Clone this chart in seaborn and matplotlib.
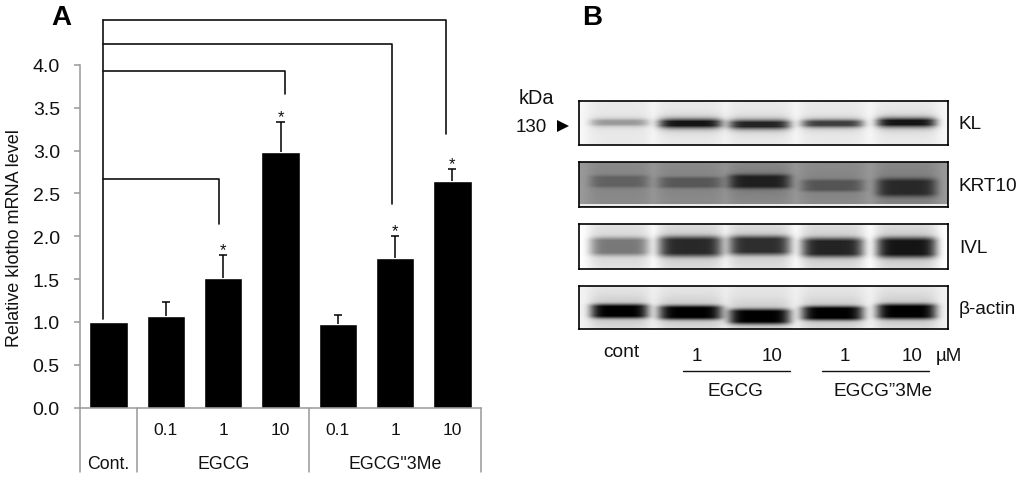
import numpy as np
import pandas as pd
import matplotlib
matplotlib.use('Agg')
import matplotlib.pyplot as plt
import seaborn as sns

W, H = 1024, 481

# Panel A data
bar_names = ['Cont.', 'EGCG 0.1', 'EGCG 1', 'EGCG 10', '3Me 0.1', '3Me 1', '3Me 10']
bar_values = [1.00, 1.07, 1.51, 2.98, 0.97, 1.75, 2.64]
err_tops = [1.00, 1.23, 1.78, 3.34, 1.08, 2.00, 2.79]
star_bars = [2, 3, 5, 6]
dose_labels = ['', '0.1', '1', '10', '0.1', '1', '10']
group_labels = ['Cont.', 'EGCG', 'EGCG"3Me']
group_centres = [0, 2, 5]
group_sizes = [12.8, 12.8, 12.8]
group_edges = [-0.5, 0.5, 3.5, 6.5]
y_ticks = [0.0, 0.5, 1.0, 1.5, 2.0, 2.5, 3.0, 3.5, 4.0]

# brackets: right end x, top y, lower end of the drop (data units)
bracket_x = [1.93, 3.08, 4.95, 5.89]
bracket_top = [2.67, 3.93, 4.25, 4.53]
bracket_end = [2.14, 3.66, 2.38, 3.20]
bracket_left = -0.10
bracket_left_end = 1.03

# Panel B data, one value per lane
lane_centres = [619, 690, 759, 832, 906]
lane_half = [29, 32, 31, 31, 30]
blot_names = ['KL', 'KRT10', 'IVL', 'β-actin']
blot_tops = [102, 163, 225, 287]
blot_bottoms = [146, 208, 270, 330]
blot_bg = [0.91, 0.54, 0.90, 0.90]
blot_gap = [0.97, 0.60, 1.00, 0.95]
blot_edge = [2, 4, 4, 4]
kl_grey = [0.60, 0.08, 0.14, 0.24, 0.08]
kl_thick = [3.5, 4.5, 4.5, 3.8, 4.5]
kl_centre = [21, 22, 23, 22, 21]
krt_grey = [0.38, 0.34, 0.12, 0.33, 0.16]
krt_thick = [6, 5.5, 7, 6, 9]
krt_centre = [19, 20, 19, 23, 25]
ivl_grey = [0.47, 0.16, 0.18, 0.14, 0.08]
ivl_thick = [9, 10, 9.5, 9.5, 10]
ivl_centre = [22, 22, 21, 23, 23]
act_grey = [0.0, 0.0, 0.0, 0.0, 0.0]
act_thick = [7, 7, 7.5, 7, 7.5]
act_centre = [24.7, 26, 30, 26.7, 25]
blot_greys = [kl_grey, krt_grey, ivl_grey, act_grey]
blot_thicks = [kl_thick, krt_thick, ivl_thick, act_thick]
blot_centres = [kl_centre, krt_centre, ivl_centre, act_centre]

sns.set_theme(style='white')
plt.rcParams['font.family'] = ['Liberation Sans', 'DejaVu Sans']

fig = plt.figure(figsize=(W / 100, H / 100), dpi=100, facecolor='white')


def px_axes(left, top, right, bottom):
    return fig.add_axes([left / W, 1 - bottom / H, (right - left) / W, (bottom - top) / H])


def px_text(x, y, s, **kw):
    kw.setdefault('ha', 'center')
    kw.setdefault('va', 'center')
    kw.setdefault('color', '#111111')
    fig.text(x / W, 1 - y / H, s, **kw)


# Panel A
ax = px_axes(80, 66, 481, 408.5)
df = pd.DataFrame({'name': bar_names, 'value': bar_values})
sns.barplot(data=df, x='name', y='value', order=bar_names, color='black',
            saturation=1, width=0.67, errorbar=None, ax=ax)
xpos = np.arange(len(bar_names))
ax.vlines(xpos[1:], bar_values[1:], err_tops[1:], color='black', lw=1.1, clip_on=False)
ax.hlines(err_tops[1:], xpos[1:] - 0.07, xpos[1:] + 0.07, color='black', lw=1.1, clip_on=False)
for i in star_bars:
    ax.text(i, err_tops[i] + 0.06, '*', ha='center', va='center', fontsize=12, color='#111111')

ax.set_xlim(-0.5, 6.5)
ax.set_ylim(0, 4)
ax.set_xlabel('')
ax.set_ylabel('')
ax.set_xticks([])
ax.set_yticks(y_ticks)
ax.set_yticklabels(['%.1f' % t for t in y_ticks], fontsize=14, color='#111111')
ax.tick_params(axis='y', length=4.5, width=1.1, color='#999999', left=True, pad=10)
sns.despine(ax=ax, top=True, right=True)
for s in ['left', 'bottom']:
    ax.spines[s].set_color('#999999')
    ax.spines[s].set_linewidth(1.1)

# grouped category axis under the bars
for e in group_edges:
    ax.plot([e, e], [0, -0.755], color='#999999', lw=1.1, clip_on=False)
for i, lab in enumerate(dose_labels):
    ax.text(i, -0.255, lab, ha='center', va='center', fontsize=12.6, color='#111111')
for c, lab, fs in zip(group_centres, group_labels, group_sizes):
    ax.text(c, -0.65, lab, ha='center', va='center', fontsize=fs, color='#111111')

# significance brackets
ax.plot([bracket_left, bracket_left], [bracket_left_end, bracket_top[-1]],
        color='#111111', lw=1.2, clip_on=False)
for bx, bt, be in zip(bracket_x, bracket_top, bracket_end):
    ax.plot([bracket_left, bx, bx], [bt, bt, be], color='#111111', lw=1.2, clip_on=False)

px_text(15, 238, 'Relative klotho mRNA level', rotation=90, fontsize=13)
px_text(61, 18, 'A', fontsize=20, fontweight='bold', color='black')
px_text(592, 18, 'B', fontsize=20, fontweight='bold', color='black')

# Panel B, blots rendered from the per-lane band values
for k, name in enumerate(blot_names):
    top, bottom = blot_tops[k], blot_bottoms[k]
    ys = np.arange(bottom - top)[:, None]
    xs = np.arange(579, 948)[None, :]
    lanes = np.zeros((ys.size, xs.size))
    for cx, hw in zip(lane_centres, lane_half):
        lanes = np.maximum(lanes, np.exp(-((xs - cx) / (hw + 3)) ** 6) * np.ones_like(lanes))
    img = blot_gap[k] + (blot_bg[k] - blot_gap[k]) * lanes
    for cx, hw, g, t, c in zip(lane_centres, lane_half, blot_greys[k], blot_thicks[k], blot_centres[k]):
        xp = np.exp(-((xs - cx) / hw) ** 6)
        yp = np.exp(-np.abs((ys - c) / t) ** blot_edge[k])
        halo = 0.18 * np.exp(-((ys - c) / (t * 2.0)) ** 2)
        p = xp * np.clip(yp + halo, 0, 1)
        img = img * (1 - p) + g * p
    if name == 'KRT10':
        img[-3:-1, :] = 0.92
    bax = px_axes(579, top, 948, bottom)
    sns.heatmap(img, ax=bax, cmap='gray', vmin=0, vmax=1, cbar=False,
                xticklabels=False, yticklabels=False, rasterized=True)
    for s in bax.spines.values():
        s.set_visible(True)
        s.set_color('black')
        s.set_linewidth(1.2)
    px_text(959, (top + bottom) / 2 + 1, name, ha='left', fontsize=13.7)

px_text(536, 98, 'kDa', fontsize=14.3)
px_text(531, 127, '130', fontsize=13.5)
fig.add_artist(plt.Line2D([563 / W], [1 - 127 / H], marker='>', markersize=9, color='black',
                          markeredgewidth=0, linestyle='none'))
px_text(621, 353, 'cont', fontsize=13.8)
for x, s in zip([697, 772, 845, 912], ['1', '10', '1', '10']):
    px_text(x, 357, s, fontsize=13.5)
px_text(949, 357, 'µM', fontsize=13.5)
px_text(735, 392, 'EGCG', fontsize=13.7)
px_text(883, 392, 'EGCG”3Me', fontsize=13.7)
for x0, x1 in [(683, 790), (822, 929)]:
    fig.add_artist(plt.Line2D([x0 / W, x1 / W], [1 - 372 / H] * 2, color='#111111', lw=1.0))

fig.savefig('out.png', dpi=100)
